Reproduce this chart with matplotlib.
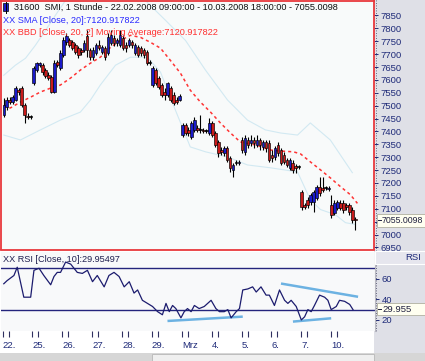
import matplotlib
matplotlib.use('Agg')
import matplotlib.pyplot as plt
from matplotlib.patches import Rectangle
from matplotlib.lines import Line2D
import matplotlib.transforms as mtransforms

W, H = 425, 361

# ---------------- data (hourly candles, SMI) ----------------
opens = [7464, 7495, 7522, 7514, 7522, 7560, 7568, 7502, 7460, 7456,
         7587, 7638, 7657, 7657, 7638, 7618, 7610, 7553, 7669, 7645,
         7695, 7746, 7753, 7746, 7734, 7723, 7715, 7715, 7769, 7715,
         7688, 7703, 7734, 7707, 7723, 7703, 7742, 7761, 7742, 7734,
         7761, 7734, 7734, 7746, 7703, 7726, 7723, 7715, 7707, 7665,
         7580, 7638, 7607, 7580, 7553, 7541, 7568, 7541, 7522, 7522,
         7386, 7425, 7406, 7379, 7406, 7413, 7406, 7406, 7402, 7394,
         7433, 7394, 7359, 7328, 7317, 7336, 7297, 7251, 7278, 7278,
         7367, 7321, 7367, 7355, 7367, 7348, 7367, 7340, 7359, 7355,
         7309, 7301, 7348, 7328, 7309, 7290, 7259, 7278, 7267, 7263,
         7166, 7116, 7135, 7128, 7128, 7143, 7186, 7182, 7182, 7178,
         7116, 7085, 7104, 7124, 7124, 7116, 7116, 7097, 7062]
highs = [7529, 7533, 7533, 7541, 7576, 7568, 7576, 7510, 7471, 7464,
         7653, 7669, 7669, 7665, 7645, 7630, 7618, 7676, 7676, 7715,
         7765, 7780, 7761, 7753, 7742, 7730, 7723, 7753, 7792, 7723,
         7726, 7742, 7753, 7734, 7730, 7780, 7792, 7773, 7761, 7792,
         7773, 7746, 7761, 7753, 7742, 7734, 7730, 7723, 7715, 7676,
         7653, 7645, 7614, 7587, 7568, 7591, 7576, 7553, 7533, 7545,
         7433, 7433, 7417, 7440, 7456, 7425, 7464, 7413, 7410, 7452,
         7440, 7402, 7367, 7340, 7344, 7344, 7305, 7278, 7290, 7290,
         7379, 7386, 7379, 7386, 7379, 7386, 7375, 7367, 7367, 7367,
         7328, 7344, 7359, 7336, 7321, 7297, 7297, 7290, 7274, 7270,
         7174, 7124, 7147, 7162, 7174, 7193, 7224, 7224, 7189, 7189,
         7155, 7135, 7135, 7135, 7135, 7124, 7124, 7108, 7070]
lows = [7456, 7483, 7506, 7506, 7518, 7541, 7495, 7433, 7448, 7448,
        7580, 7630, 7649, 7618, 7607, 7599, 7549, 7549, 7649, 7638,
        7688, 7734, 7726, 7715, 7699, 7684, 7695, 7707, 7688, 7676,
        7676, 7695, 7715, 7699, 7676, 7695, 7734, 7730, 7730, 7726,
        7715, 7707, 7726, 7723, 7695, 7688, 7692, 7684, 7657, 7657,
        7572, 7580, 7564, 7533, 7522, 7533, 7514, 7502, 7506, 7518,
        7379, 7386, 7383, 7371, 7398, 7398, 7394, 7394, 7394, 7386,
        7379, 7340, 7301, 7309, 7305, 7282, 7243, 7224, 7270, 7270,
        7317, 7309, 7336, 7344, 7336, 7340, 7328, 7328, 7321, 7282,
        7282, 7290, 7305, 7270, 7274, 7263, 7251, 7240, 7240, 7255,
        7097, 7100, 7104, 7116, 7089, 7135, 7151, 7166, 7174, 7170,
        7066, 7077, 7097, 7097, 7085, 7097, 7077, 7046, 7019]
closes = [7502, 7522, 7514, 7533, 7568, 7553, 7502, 7464, 7456, 7456,
          7645, 7665, 7665, 7630, 7614, 7607, 7553, 7665, 7657, 7703,
          7753, 7769, 7734, 7723, 7707, 7695, 7707, 7742, 7715, 7688,
          7715, 7734, 7723, 7726, 7688, 7765, 7773, 7742, 7753, 7773,
          7723, 7723, 7753, 7734, 7734, 7695, 7703, 7695, 7665, 7665,
          7645, 7587, 7572, 7541, 7541, 7587, 7522, 7510, 7514, 7537,
          7425, 7394, 7394, 7433, 7444, 7406, 7406, 7402, 7402, 7433,
          7386, 7348, 7317, 7321, 7336, 7290, 7259, 7270, 7278, 7282,
          7328, 7375, 7348, 7367, 7355, 7367, 7348, 7359, 7336, 7290,
          7297, 7336, 7317, 7278, 7282, 7270, 7290, 7251, 7259, 7263,
          7108, 7108, 7116, 7155, 7166, 7186, 7162, 7174, 7182, 7182,
          7077, 7124, 7128, 7104, 7097, 7108, 7089, 7058, 7055]

# 20-period moving average
ma_x = [0, 2.2, 5.6, 9, 12.3, 15.7, 19, 22.4, 25.7, 29.1, 32.4, 35.8, 39.2, 42.5,
        45.9, 49.2, 52.6, 55.9, 59.3, 62.6, 66, 69.4, 72.7, 76.1, 79.4, 84.5,
        89.5, 92.9, 97.2, 99.6, 102.9, 106.3, 109.6, 113, 116.3, 118.7]
ma_y = [7502, 7491, 7514, 7533, 7553, 7568, 7580, 7607, 7638, 7665, 7688, 7726,
        7753, 7773, 7765, 7746, 7723, 7676, 7626, 7560, 7514, 7475, 7433, 7394,
        7359, 7348, 7328, 7324, 7321, 7313, 7282, 7251, 7220, 7186, 7155, 7121]

# Bollinger bands
bb_up_x = [0, 3.9, 7.3, 10.6, 14, 17.3, 20.7, 25.7, 35.8, 45.9, 49.2, 54.3, 61,
           67.7, 75.1, 81.8, 87.8, 92.9, 98.6, 102.9, 109.6, 117]
bb_up_y = [7618, 7657, 7684, 7734, 7792, 7850, 7908, 7985, 8005, 7927, 7889, 7831,
           7753, 7638, 7522, 7444, 7406, 7394, 7386, 7433, 7367, 7240]
bb_lo_x = [0, 5.6, 12.3, 19, 25.7, 29.1, 32.4, 37.5, 42.5, 48.2, 52.6, 57.6, 62.6,
           67.7, 75.1, 81.8, 89.5, 98.6, 102.9, 106.3, 111.3, 114.7, 118]
bb_lo_y = [7386, 7367, 7406, 7444, 7475, 7522, 7580, 7657, 7688, 7688, 7630, 7483,
           7340, 7321, 7301, 7270, 7259, 7243, 7135, 7097, 7077, 7046, 7039]

# RSI(10)
rsi_x = [0, 1.1, 3.4, 4.5, 6.7, 9.0, 10.1, 11.8, 13.4, 15.7, 16.8, 17.9, 19.0, 20.7,
         22.4, 24.6, 26.3, 28.0, 29.7, 31.3, 33.6, 35.2, 36.9, 38.6, 40.3, 42.0,
         43.6, 44.8, 46.4, 48.1, 49.8, 51.5, 53.1, 54.3, 55.4, 56.5, 57.6, 59.3,
         60.4, 61.5, 62.7, 63.8, 65.4, 67.1, 69.4, 71.0, 72.2, 73.8, 75.0, 76.1,
         77.8, 78.9, 80.0, 81.7, 83.3, 84.5, 86.1, 87.8, 88.9, 90.6, 92.3, 94.0,
         95.1, 96.2, 97.9, 99.6, 100.7, 101.8, 102.9, 104.0, 105.7, 107.4, 108.5,
         109.6, 111.3, 112.4, 114.1, 115.8, 116.9]
rsi_y = [55, 58, 63, 71, 42, 42, 68, 70, 63, 54, 62, 66, 66, 76,
         74, 66, 65, 68, 57, 63, 52, 63, 66, 62, 52, 57,
         46, 49, 39, 36, 33, 28, 25, 36, 28, 34, 31, 22,
         28, 31, 28, 34, 31, 33, 39, 31, 28, 28, 30, 22,
         28, 31, 49, 50, 52, 47, 52, 44, 44, 34, 49, 39,
         36, 39, 33, 20, 23, 30, 28, 34, 44, 42, 39,
         30, 33, 39, 38, 35, 30]

# hand-drawn trend lines on RSI
trend_lines = [((54.8, 80.0), (19.0, 23.2)),
               ((92.8, 118.6), (55.2, 42.4)),
               ((96.8, 109.6), (18.4, 21.6))]

day_pos = [0, 10, 20, 30, 40, 50, 60, 70, 80, 90, 100, 110]
day_labels = ['22.', '25.', '26.', '27.', '28.', '29.', 'Mrz', '4.', '5.', '6.', '7.', '10.']
price_ticks = [6950, 7000, 7050, 7100, 7150, 7200, 7250, 7300, 7350, 7400, 7450,
               7500, 7550, 7600, 7650, 7700, 7750, 7800, 7850]
rsi_ticks = [20, 40, 60]
last_price_text = '7055.0098'
last_rsi_text = '29.955'

# ---------------- layout helpers ----------------
plt.rcParams['font.family'] = ['Liberation Sans', 'DejaVu Sans']
fig = plt.figure(figsize=(W / 100, H / 100), dpi=100)
fig.patch.set_facecolor('white')


def rect(x0, y0, x1, y1):
    return [x0 / W, 1 - y1 / H, (x1 - x0) / W, (y1 - y0) / H]


def fx(x):
    return x / W


def fy(y):
    return 1 - y / H


def frect(x0, y0, x1, y1, **kw):
    r = Rectangle((fx(x0), fy(y1)), (x1 - x0) / W, (y1 - y0) / H,
                  transform=fig.transFigure, **kw)
    fig.add_artist(r)
    return r


def fline(x0, y0, x1, y1, **kw):
    fig.add_artist(Line2D([fx(x0), fx(x1)], [fy(y0), fy(y1)],
                          transform=fig.transFigure, **kw))


NAVY = '#1e2a78'
XL = (-1.1, 124.1)
FS = 6.6

# right grey column
frect(374, 0, W, 353, facecolor='#dfe0e7', edgecolor='none', zorder=-5)
# scrollbar
frect(0, 353, W, H, facecolor='#d6d6d6', edgecolor='none', zorder=-5)
frect(152, 354, 374, H, facecolor='#efefef', edgecolor='#b8b8b8', lw=0.6, zorder=-4)

# ---------------- main price panel ----------------
ax = fig.add_axes(rect(0.5, 0.5, 373.5, 249.5))
ax.set_facecolor('#f8fafa')
for s in ax.spines.values():
    s.set_color('#e8383c')
    s.set_linewidth(1.3)
ax.set_xlim(*XL)
ax.set_ylim(6942, 7908)

xs = list(range(len(closes)))
ax.plot(bb_up_x, bb_up_y, color='#d2e9f2', lw=0.8, zorder=1)
ax.plot(bb_lo_x, bb_lo_y, color='#d2e9f2', lw=0.8, zorder=1)
ax.plot(ma_x, ma_y, color='#ff3434', lw=1.1, dashes=(2, 2), zorder=2)

ax.vlines(xs, lows, highs, color='black', lw=0.8, zorder=3)
bottoms = [min(o, c) for o, c in zip(opens, closes)]
heights = [max(abs(c - o), 2.5) for o, c in zip(opens, closes)]
cols = ['#1a1ac8' if c > o else ('#c81a1a' if c < o else 'black')
        for o, c in zip(opens, closes)]
ax.bar(xs, heights, bottom=bottoms, width=0.85, color=cols,
       edgecolor='black', linewidth=0.45, zorder=4)

ax.set_xticks([])
ax.yaxis.tick_right()
ax.set_yticks(price_ticks)
# 7050 is covered by the last-price label in the reference
ax.set_yticklabels(['' if t == 7050 else str(t) for t in price_ticks])
ax.tick_params(axis='y', length=3, width=0.7, pad=2.0, colors=NAVY,
               labelsize=6.8, direction='out')

# dotted separator line
fline(375.5, 0, 375.5, 331, color='#404060', lw=0.6, ls=(0, (1, 2)), zorder=6)

# legends / title
frect(3, 3, 8, 11, facecolor='#1a1ac8', edgecolor='black', lw=0.5, zorder=7)
fline(5.5, 1.5, 5.5, 12.5, color='black', lw=0.7, zorder=7)
fig.text(fx(14), fy(7.3), '31600  SMI, 1 Stunde - 22.02.2008 09:00:00 - 10.03.2008 18:00:00 - 7055.0098',
         fontsize=FS, color='#101010', va='center', ha='left', zorder=8)
fig.text(fx(3), fy(20.5), 'XX SMA [Close, 20]:7120.917822',
         fontsize=FS, color='#2a2aff', va='center', ha='left', zorder=8)
fig.text(fx(3), fy(32.8), 'XX BBD [Close, 20, 2] Moving Average:7120.917822',
         fontsize=FS, color='#ff3030', va='center', ha='left', zorder=8)

# last price label
frect(377, 214, W + 1, 226.5, facecolor='#fffff0', edgecolor='#b0b0a0', lw=0.6, zorder=7)
fline(378, 220.3, 380.5, 220.3, color='#202040', lw=0.7, zorder=8)
fig.text(fx(381.5), fy(220.3), last_price_text, fontsize=6.3, color='#202040',
         va='center', ha='left', zorder=8)

# ---------------- RSI panel ----------------
axr = fig.add_axes(rect(0.5, 251.5, 374.5, 331))
axr.set_facecolor('#f8f9fa')
axr.set_xlim(*XL)
axr.set_ylim(9.3, 86.2)
for k, s in axr.spines.items():
    s.set_visible(k == 'right')
axr.spines['right'].set_color('#b8b8c0')
axr.axhline(70, color='#24247c', lw=1.0, zorder=2)
axr.axhline(30, color='#24247c', lw=1.0, zorder=2)
for (tx, ty) in trend_lines:
    axr.plot(tx, ty, color='#6cb2e2', lw=1.8, solid_capstyle='butt', zorder=3)
axr.plot(rsi_x, rsi_y, color='#1c1c6e', lw=0.9, zorder=4)

axr.yaxis.tick_right()
axr.set_yticks(rsi_ticks)
axr.set_yticklabels([str(t) for t in rsi_ticks])
axr.tick_params(axis='y', length=3, width=0.7, pad=2.0, colors=NAVY,
                labelsize=6.8, direction='out')
axr.set_xticks([p - 0.4 for p in day_pos])
axr.set_xticks([p + 1.6 for p in day_pos], minor=True)
axr.tick_params(axis='x', which='both', length=4.5, width=0.8, color='#303060',
                labelbottom=False, direction='out', pad=0)

fig.text(fx(3), fy(259), 'XX RSI [Close, 10]:29.95497', fontsize=FS, color='#202050',
         va='center', ha='left', zorder=8)

# RSI header & value label in right column
frect(375, 250.5, W + 1, 263.5, facecolor='#e6e6ee', edgecolor='#ffffff', lw=0.8, zorder=9)
fig.text(fx(421), fy(257.3), 'RSI', fontsize=6.8, color=NAVY, va='center', ha='right', zorder=10)
frect(377, 303, W + 1, 315, facecolor='#fffff0', edgecolor='#b0b0a0', lw=0.6, zorder=7)
fline(378, 309, 380.5, 309, color='#202040', lw=0.7, zorder=8)
fig.text(fx(382), fy(309), last_rsi_text, fontsize=6.8, color='#202040',
         va='center', ha='left', zorder=8)

# date labels
btr = mtransforms.blended_transform_factory(axr.transData, fig.transFigure)
for p, lab in zip(day_pos, day_labels):
    axr.text(p - 0.4, fy(346), lab, transform=btr, fontsize=6.8, color=NAVY,
             ha='left', va='center', clip_on=False)

fig.savefig('out.png', dpi=100, facecolor=fig.get_facecolor())
